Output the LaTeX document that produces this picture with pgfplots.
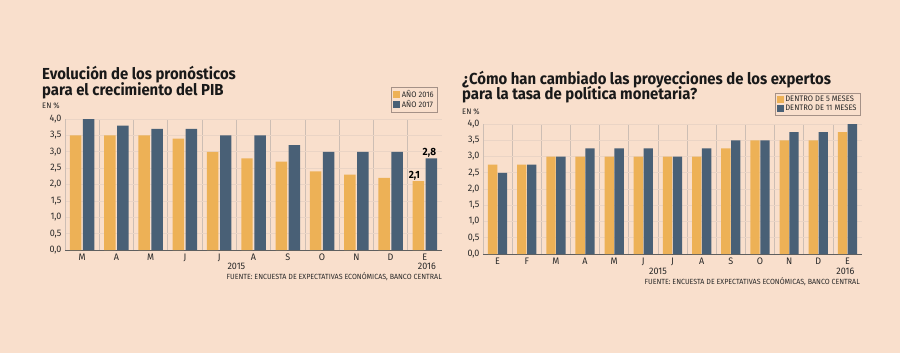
\documentclass[border=0pt]{standalone}
\usepackage{fontspec}
\setmainfont{Fira Sans}[FakeStretch=0.95]
\newfontfamily\titlefont{Fira Sans}[FakeStretch=0.935]
\usepackage{pgfplots}
\pgfplotsset{compat=1.18}
\definecolor{bg}{RGB}{249,223,204}
\definecolor{ylw}{RGB}{237,177,86}
\definecolor{blu}{RGB}{73,96,118}
\definecolor{sep}{RGB}{205,190,180}
\definecolor{grd}{RGB}{234,212,197}
\definecolor{axl}{RGB}{95,95,95}
\definecolor{legb}{RGB}{165,145,135}
\definecolor{txt}{RGB}{40,40,40}
\pgfplotsset{
  chart/.style={
    scale only axis, ymin=0, ymax=4, ytick={0,0.5,...,4},
    axis lines*=left,
    x axis line style={draw=axl, line width=0.9bp, -},
    y axis line style={draw=sep, line width=0.6bp, -},
    major tick length=0pt, minor tick length=0pt,
    ymajorgrids, major grid style={draw=grd, line width=0.6bp},
    xminorgrids, minor grid style={draw=sep, line width=0.7bp},
    ybar,
    tick label style={font=\fontsize{9.5}{10}\selectfont, text=txt},
    yticklabel style={/pgf/number format/.cd, use comma, fixed, fixed zerofill, precision=1},
    /pgf/number format/assume math mode=true,
    clip=false,
    legend cell align=left,
    legend style={draw=legb, fill=none, font=\fontsize{8}{9}\selectfont, text=txt,
      inner sep=1.8bp, row sep=-1.5bp, nodes={inner sep=1.4bp}},
  },
  sq/.style={legend image code/.code={\fill[##1] (0bp,-3.5bp) rectangle (7bp,3.5bp);}},
}
\begin{document}
\begin{tikzpicture}
\fill[bg] (0,0) rectangle (900bp,-353bp);
% ---------- left chart ----------
\begin{axis}[chart, at={(65bp,-250bp)}, anchor=south west,
  width=377bp, height=131bp, xmin=-0.5, xmax=10.5,
  xtick={0,...,10}, xticklabels={M,A,M,J,J,A,S,O,N,D,E},
  minor xtick={0.5,1.5,...,9.5},
  bar width=0.335,
  legend style={at={(1,1)}, anchor=south east, xshift=-5bp, yshift=7bp}]
\addplot[fill=ylw, draw=none, sq, bar shift=-0.19,
  point meta=explicit symbolic, nodes near coords,
  every node near coord/.append style={font=\bfseries\fontsize{10.5}{11}\selectfont, text=black, anchor=south, xshift=-4bp, inner sep=1bp}]
  coordinates {(0,3.5)[] (1,3.5)[] (2,3.5)[] (3,3.4)[] (4,3.0)[] (5,2.8)[] (6,2.7)[] (7,2.4)[] (8,2.3)[] (9,2.2)[] (10,2.1)[2,1]};
\addlegendentry{AÑO 2016}
\addplot[fill=blu, draw=none, sq, bar shift=0.19,
  point meta=explicit symbolic, nodes near coords,
  every node near coord/.append style={font=\bfseries\fontsize{10.5}{11}\selectfont, text=black, anchor=south, xshift=-2bp, inner sep=1bp}]
  coordinates {(0,4.0)[] (1,3.8)[] (2,3.7)[] (3,3.7)[] (4,3.5)[] (5,3.5)[] (6,3.2)[] (7,3.0)[] (8,3.0)[] (9,3.0)[] (10,2.8)[2,8]};
\addlegendentry{AÑO 2017}
\node[font=\fontsize{9.5}{10}\selectfont, text=txt, anchor=base, yshift=-19bp] at (axis cs:4.5,0) {2015};
\node[font=\fontsize{9.5}{10}\selectfont, text=txt, anchor=base, yshift=-19bp, xshift=2bp] at (axis cs:10,0) {2016};
\end{axis}
% ---------- right chart ----------
\begin{axis}[chart, at={(483bp,-254bp)}, anchor=south west,
  width=379bp, height=130bp, xmin=-0.5, xmax=12.5,
  xtick={0,...,12}, xticklabels={E,F,M,A,M,J,J,A,S,O,N,D,E},
  minor xtick={0.5,1.5,...,11.5},
  bar width=0.32,
  legend style={at={(1,1)}, anchor=south east, xshift=-2bp, yshift=9bp}]
\addplot[fill=ylw, draw=none, sq, bar shift=-0.17]
  coordinates {(0,2.75) (1,2.75) (2,3.0) (3,3.0) (4,3.0) (5,3.0) (6,3.0) (7,3.0) (8,3.25) (9,3.5) (10,3.5) (11,3.5) (12,3.75)};
\addlegendentry{DENTRO DE 5 MESES}
\addplot[fill=blu, draw=none, sq, bar shift=0.17]
  coordinates {(0,2.5) (1,2.75) (2,3.0) (3,3.25) (4,3.25) (5,3.25) (6,3.0) (7,3.25) (8,3.5) (9,3.5) (10,3.75) (11,3.75) (12,4.0)};
\addlegendentry{DENTRO DE 11 MESES}
\node[font=\fontsize{9.5}{10}\selectfont, text=txt, anchor=base, yshift=-20bp] at (axis cs:5.5,0) {2015};
\node[font=\fontsize{9.5}{10}\selectfont, text=txt, anchor=base, yshift=-20bp, xshift=-2bp] at (axis cs:12,0) {2016};
\end{axis}
% ---------- texts ----------
\node[anchor=base west, inner sep=0, font=\titlefont\bfseries\fontsize{16}{17}\selectfont, text=black!90] at (42bp,-79bp) {Evolución de los pronósticos};
\node[anchor=base west, inner sep=0, font=\titlefont\bfseries\fontsize{16}{17}\selectfont, text=black!90] at (42bp,-95bp) {para el crecimiento del PIB};
\node[anchor=base west, inner sep=0, font=\fontsize{8}{9}\selectfont, text=txt] at (42bp,-108bp) {EN \%};
\node[anchor=base west, inner sep=0, font=\titlefont\bfseries\fontsize{16}{17}\selectfont, text=black!90] at (462bp,-84bp) {¿Cómo han cambiado las proyecciones de los expertos};
\node[anchor=base west, inner sep=0, font=\titlefont\bfseries\fontsize{16}{17}\selectfont, text=black!90] at (462bp,-99.5bp) {para la tasa de política monetaria?};
\node[anchor=base west, inner sep=0, font=\fontsize{8}{9}\selectfont, text=txt] at (462bp,-114bp) {EN \%};
\node[anchor=base east, inner sep=0, font=\fontsize{7.5}{8}\selectfont, text=txt] at (442bp,-279bp) {FUENTE: ENCUESTA DE EXPECTATIVAS ECONÓMICAS, BANCO CENTRAL};
\node[anchor=base east, inner sep=0, font=\fontsize{7.5}{8}\selectfont, text=txt] at (860bp,-284bp) {FUENTE: ENCUESTA DE EXPECTATIVAS ECONÓMICAS, BANCO CENTRAL};
\pgfresetboundingbox
\path[use as bounding box] (0,0) rectangle (900bp,-353bp);
\end{tikzpicture}
\end{document}
